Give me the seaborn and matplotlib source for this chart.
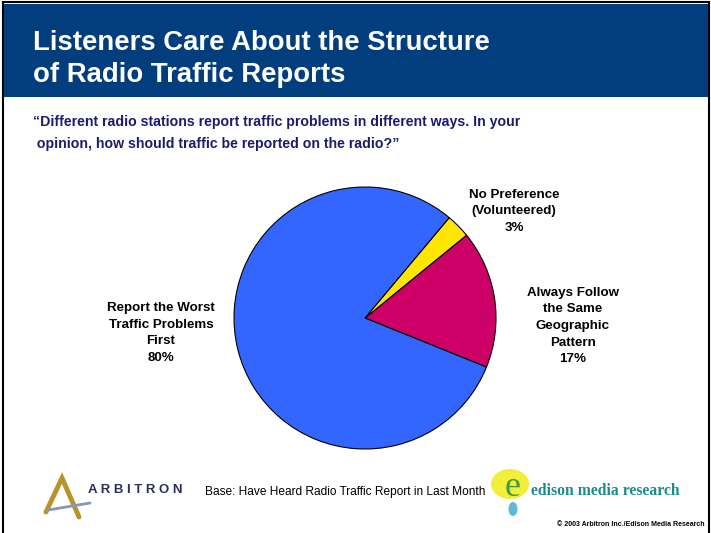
import matplotlib
matplotlib.use('Agg')
import matplotlib.pyplot as plt
from matplotlib.patches import Rectangle, Ellipse
from matplotlib.lines import Line2D
import seaborn as sns

# data
labels = ['Always Follow\nthe Same\nGeographic\nPattern\n17%',
          'No Preference\n(Volunteered)\n3%',
          'Report the Worst\nTraffic Problems\nFirst\n80%']
shares = [17, 3, 80]
colors = ['#CC0066', '#FFE600', '#3366FF']
label_pos = [(573, 326), (514, 211), (161, 333)]

title = 'Listeners Care About the Structure\nof Radio Traffic Reports'
question = ('\u201cDifferent radio stations report traffic problems in different ways. In your\n'
            ' opinion, how should traffic be reported on the radio?\u201d')
base_note = 'Base: Have Heard Radio Traffic Report in Last Month'
copyright_note = '\u00a9 2003 Arbitron Inc./Edison Media Research'

sns.set_theme(style='white')
plt.rcParams['font.family'] = ['Liberation Sans', 'DejaVu Sans']

W, H = 711, 533
fig = plt.figure(figsize=(W / 100, H / 100), dpi=100)
fig.patch.set_facecolor('white')


def fx(x):
    return x / W


def fy(y):
    return 1 - y / H


# frame and header band
fig.patches.append(Rectangle((fx(3), fy(535)), fx(706), fy(2) - fy(535), transform=fig.transFigure,
                             facecolor='none', edgecolor='black', lw=1.5))
fig.patches.append(Rectangle((fx(4), fy(97)), fx(704), fy(4) - fy(97), transform=fig.transFigure,
                             facecolor='#023E7D', edgecolor='none'))

t1, t2 = title.split('\n')
fig.text(fx(33), fy(50), t1, color='white', fontsize=19.8, fontweight='bold', va='baseline')
fig.text(fx(33), fy(82), t2, color='white', fontsize=19.8, fontweight='bold', va='baseline')

q1, q2 = question.split('\n')
fig.text(fx(33), fy(126), q1, color='#1C1C6C', fontsize=10.2, fontweight='bold', va='baseline')
fig.text(fx(33), fy(148), q2, color='#1C1C6C', fontsize=10.2, fontweight='bold', va='baseline')

# pie
cx, cy, r = 365, 318, 131
box = 150
ax = fig.add_axes([fx(cx - box), fy(cy + box), 2 * box / W, 2 * box / H])
ax.pie(shares, colors=colors, startangle=-22, counterclock=True, radius=r / box,
       wedgeprops=dict(edgecolor='black', linewidth=0.8))
ax.set_xlim(-1, 1)
ax.set_ylim(-1, 1)
ax.set_aspect('equal')
ax.axis('off')

for lab, (x, y) in zip(labels, label_pos):
    fig.text(fx(x), fy(y), lab, ha='center', va='center', multialignment='center',
             fontsize=9.6, fontweight='bold', color='black', linespacing=1.5)

# Arbitron logo
fig.lines.append(Line2D([fx(46), fx(62), fx(79)], [fy(512), fy(478), fy(517)],
                        transform=fig.transFigure, color='#B8932A', lw=3.5,
                        solid_joinstyle='miter'))
fig.lines.append(Line2D([fx(48), fx(90)], [fy(510), fy(503)], transform=fig.transFigure,
                        color='#8A93B8', lw=2))
fig.text(fx(88), fy(490), 'A R B I T R O N', color='#2B2D5A', fontsize=9.5,
         fontweight='bold', va='center')

fig.text(fx(205), fy(492), base_note, color='black', fontsize=8.6, va='center')

# Edison logo
fig.patches.append(Ellipse((fx(510), fy(484)), 38 / W, 30 / H, transform=fig.transFigure,
                           facecolor='#F2EE3A', edgecolor='none'))
fig.patches.append(Ellipse((fx(513), fy(509)), 9 / W, 14 / H, transform=fig.transFigure,
                           facecolor='#5FB8D8', edgecolor='none'))
fig.text(fx(513), fy(488), 'e', color='#3E9B4A', fontsize=26, family='Liberation Serif',
         ha='center', va='center')
fig.text(fx(531), fy(491), 'edison media research', color='#1A8C8C', fontsize=11.3,
         fontweight='bold', family='Liberation Serif', va='center')

fig.text(fx(705), fy(524), copyright_note, color='black', fontsize=5,
         fontweight='bold', ha='right', va='center')

fig.savefig('out.png', dpi=100)
